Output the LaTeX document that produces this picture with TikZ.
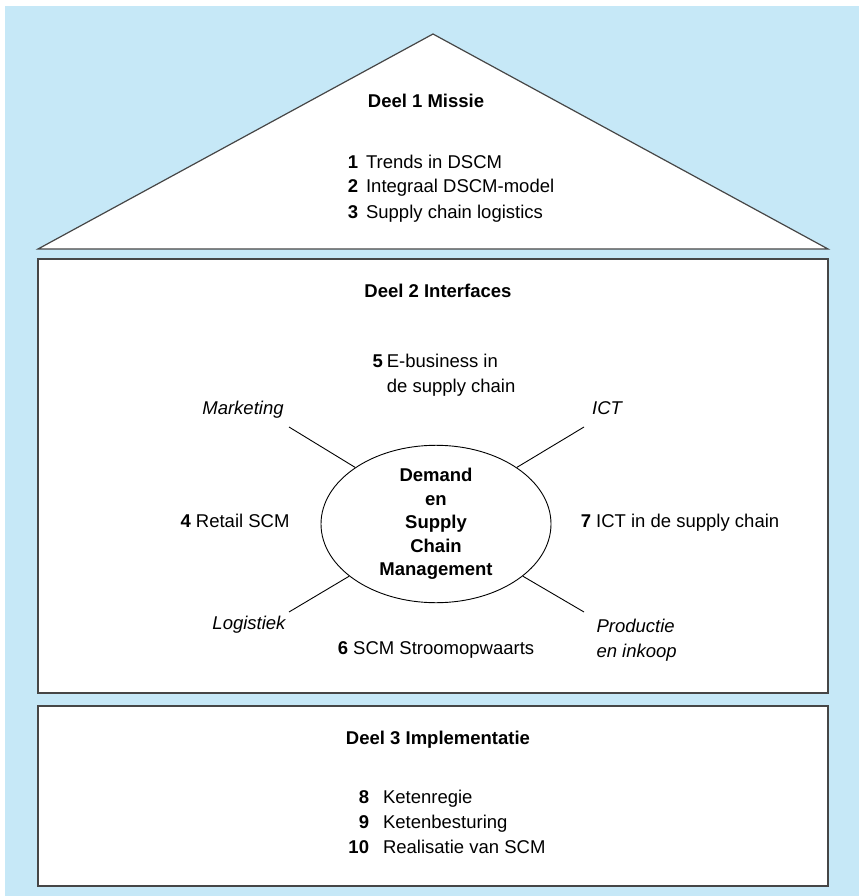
\documentclass[tikz,border=0pt]{standalone}
\usepackage{fontspec}
\setmainfont{Liberation Sans}
\usepackage{tikz}
\usetikzlibrary{shapes.geometric}

\definecolor{houseblue}{RGB}{198,232,247}
\definecolor{edgegray}{RGB}{70,70,70}

\newcommand{\housefont}{\fontsize{18.5}{25}\selectfont}

\tikzset{
    wall/.style={draw=edgegray, line width=1.2pt, fill=white},
    heading/.style={font=\housefont\bfseries, anchor=mid},
    chapter/.style={font=\housefont, anchor=mid},
    field/.style={font=\housefont\itshape, anchor=mid},
    hub/.style={ellipse, draw=black, line width=0.9pt, minimum width=230pt,
        minimum height=146pt, inner sep=0pt, align=center,
        font=\fontsize{18.5}{23.5}\selectfont\bfseries},
    spoke/.style={draw=black, line width=0.9pt}
}

\begin{document}
\begin{tikzpicture}[x=1pt, y=-1pt]
        % The background
        \fill[houseblue] (5, 6) rectangle (859, 896);
        \useasboundingbox (0, 0) rectangle (859, 896);

        % The roof, the walls and the floor
        \draw[wall] (38, 249) -- (433, 34) -- (828, 249) -- cycle;
        \draw[wall] (38, 259) rectangle (828, 693);
        \draw[wall] (38, 706) rectangle (828, 886);

        % Deel 1
        \node[heading] (deel1) at (426, 105) {Deel 1 Missie};
        \node[font=\housefont] (list1) at (451, 188) {%
            \begin{tabular}{@{}r@{\hspace{8pt}}l@{}}
                \textbf{1} & Trends in DSCM\\
                \textbf{2} & Integraal DSCM-model\\
                \textbf{3} & Supply chain logistics
            \end{tabular}};

        % Deel 2
        \node[heading] (deel2) at (438, 295) {Deel 2 Interfaces};
        \node[hub] (dscm) at (436, 524) {Demand\\en\\Supply\\Chain\\Management};

        \node[font=\housefont] (ch5) at (444, 375) {%
            \begin{tabular}{@{}r@{\hspace{4pt}}l@{}}
                \textbf{5} & E-business in\\
                & de supply chain
            \end{tabular}};
        \node[chapter] (ch4) at (235, 525) {\textbf{4} Retail SCM};
        \node[chapter] (ch7) at (680, 525) {\textbf{7} ICT in de supply chain};
        \node[chapter] (ch6) at (436, 652) {\textbf{6} SCM Stroomopwaarts};

        \node[field] (mkt) at (243, 412) {Marketing};
        \node[field] (ict) at (607, 412) {ICT};
        \node[field] (log) at (249, 627) {Logistiek};
        \node[font=\housefont\itshape, align=left, anchor=west] (prod) at (593, 640)
            {Productie\\en inkoop};

        % The spokes
        \coordinate (mktend) at (289, 427);
        \coordinate (ictend) at (584, 427);
        \coordinate (logend) at (289, 612);
        \coordinate (prodend) at (584, 612);
        \draw[spoke] (mktend) -- (dscm.145);
        \draw[spoke] (ictend) -- (dscm.35);
        \draw[spoke] (logend) -- (dscm.211);
        \draw[spoke] (prodend) -- (dscm.329);

        % Deel 3
        \node[heading] (deel3) at (438, 742) {Deel 3 Implementatie};
        \node[font=\housefont] (list3) at (447, 823) {%
            \begin{tabular}{@{}r@{\hspace{14pt}}l@{}}
                \textbf{8} & Ketenregie\\
                \textbf{9} & Ketenbesturing\\
                \textbf{10} & Realisatie van SCM
            \end{tabular}};
    \end{tikzpicture}
\end{document}
